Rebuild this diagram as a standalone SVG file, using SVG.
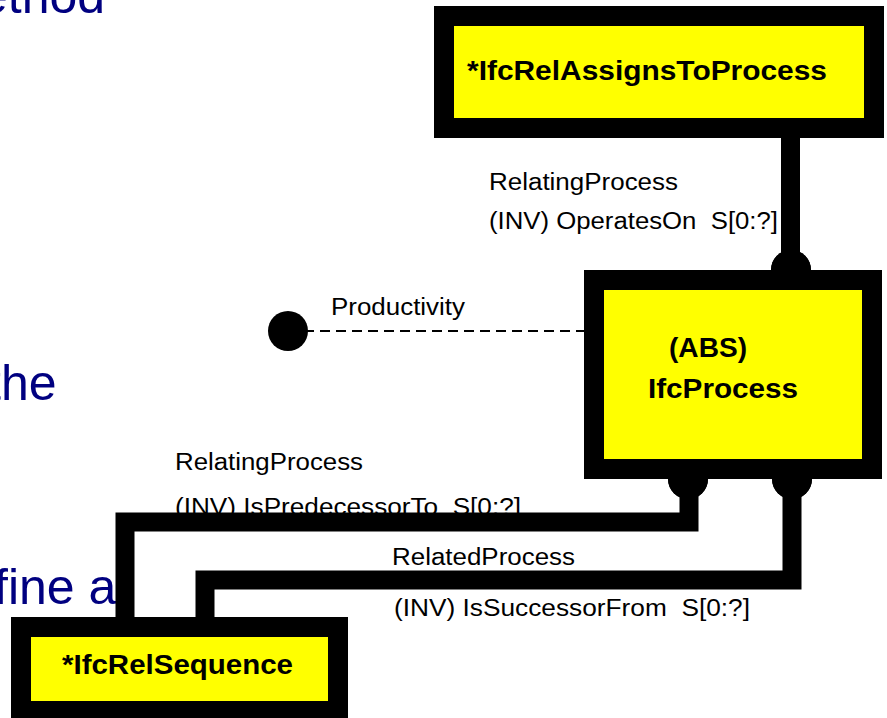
<svg xmlns="http://www.w3.org/2000/svg" width="887" height="718" viewBox="0 0 887 718">
<style>
.bg{font-family:"Liberation Sans",Arial,sans-serif;font-size:50px;fill:#000080}
.box{fill:#ffff00;stroke:#000;stroke-width:20}
.bt{font-family:"Liberation Sans",Arial,sans-serif;font-weight:bold;font-size:27px;fill:#000}
.lb{font-family:"Liberation Sans",Arial,sans-serif;font-size:23px;fill:#000}
.con{fill:none;stroke:#000;stroke-linejoin:miter;stroke-linecap:butt}
</style>
<rect x="0" y="0" width="887" height="718" fill="#fff"/>
<g id="background-text">
<text class="bg" x="-20" y="13" font-size="46">ethod</text>
<text class="bg" x="-13" y="400" font-size="53">the</text>
<text class="bg" x="-6" y="604" font-size="51" xml:space="preserve">fine a</text>
</g>
<g id="labels">
<text class="lb" x="489" y="190" textLength="189" lengthAdjust="spacingAndGlyphs">RelatingProcess</text>
<text class="lb" x="489" y="229" textLength="289" lengthAdjust="spacingAndGlyphs" xml:space="preserve">(INV) OperatesOn  S[0:?]</text>
<text class="lb" x="331" y="315" textLength="134" lengthAdjust="spacingAndGlyphs">Productivity</text>
<text class="lb" x="175" y="470" textLength="188" lengthAdjust="spacingAndGlyphs">RelatingProcess</text>
<text class="lb" x="175" y="515" textLength="346" lengthAdjust="spacingAndGlyphs" xml:space="preserve">(INV) IsPredecessorTo  S[0:?]</text>
<text class="lb" x="392" y="565" textLength="183" lengthAdjust="spacingAndGlyphs">RelatedProcess</text>
<text class="lb" x="394" y="616" textLength="356" lengthAdjust="spacingAndGlyphs" xml:space="preserve">(INV) IsSuccessorFrom  S[0:?]</text>
</g>
<g id="connectors">
<path class="con" d="M790.5 138 V270" stroke-width="19"/>
<circle cx="791" cy="270" r="20" fill="#000"/>
<line x1="288" y1="331" x2="586" y2="331" stroke="#000" stroke-width="2.2" stroke-dasharray="10 6"/>
<circle cx="288" cy="331" r="20" fill="#000"/>
<path class="con" d="M689 479 V522 H125 V620" stroke-width="19"/>
<circle cx="688" cy="479" r="20" fill="#000"/>
<path class="con" d="M792 479 V580 H205 V620" stroke-width="19"/>
<circle cx="792" cy="479" r="20" fill="#000"/>
</g>
<g id="IfcRelAssignsToProcess">
<rect class="box" x="444" y="16" width="430" height="112"/>
<text class="bt" x="467" y="80" font-size="28" textLength="360" lengthAdjust="spacingAndGlyphs">*IfcRelAssignsToProcess</text>
</g>
<g id="IfcProcess">
<rect class="box" x="594" y="280" width="278" height="189"/>
<circle cx="791" cy="270" r="20" fill="#000"/>
<circle cx="688" cy="479" r="20" fill="#000"/>
<circle cx="792" cy="479" r="20" fill="#000"/>
<text class="bt" x="669" y="357" textLength="78" lengthAdjust="spacingAndGlyphs">(ABS)</text>
<text class="bt" x="648" y="398" textLength="150" lengthAdjust="spacingAndGlyphs">IfcProcess</text>
</g>
<g id="IfcRelSequence">
<rect class="box" x="21" y="627" width="317" height="84"/>
<text class="bt" x="62" y="674" textLength="231" lengthAdjust="spacingAndGlyphs">*IfcRelSequence</text>
</g>
</svg>
